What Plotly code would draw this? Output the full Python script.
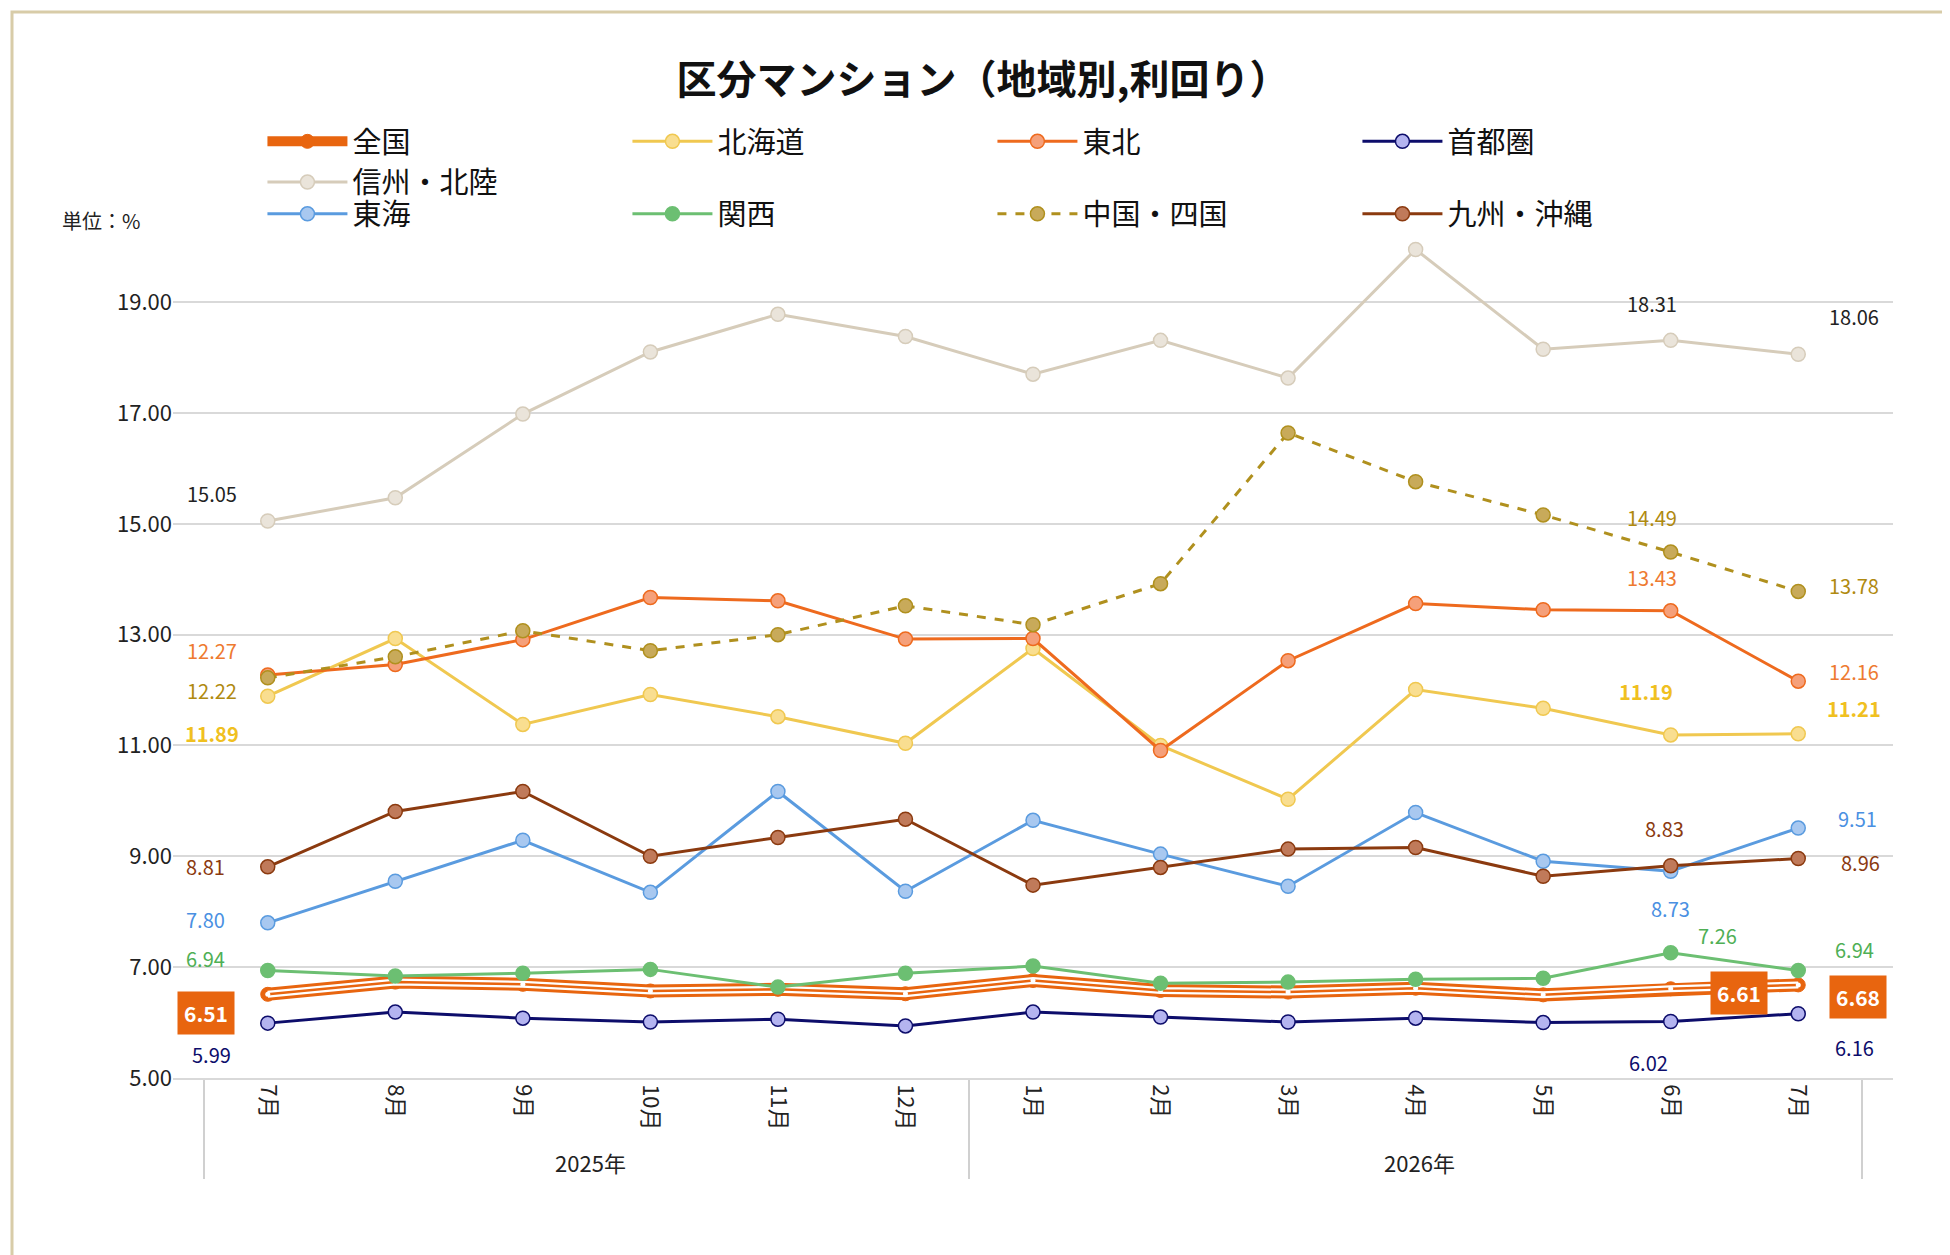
import plotly.graph_objects as go

years = ["2025年"]*6 + ["2026年"]*7
months = ["7月","8月","9月","10月","11月","12月","1月","2月","3月","4月","5月","6月","7月\u200b"]

zenkoku   = [6.51,6.73,6.69,6.57,6.60,6.52,6.76,6.58,6.55,6.62,6.50,6.61,6.68]
hokkaido  = [11.89,12.93,11.38,11.92,11.52,11.04,12.75,11.00,10.03,12.01,11.67,11.19,11.21]
tohoku    = [12.27,12.46,12.91,13.67,13.61,12.92,12.93,10.91,12.53,13.56,13.45,13.43,12.16]
shutoken  = [5.99,6.19,6.08,6.01,6.06,5.94,6.19,6.10,6.01,6.08,6.00,6.02,6.16]
shinshu   = [15.05,15.47,16.98,18.10,18.78,18.38,17.70,18.31,17.63,19.95,18.15,18.31,18.06]
tokai     = [7.80,8.55,9.29,8.35,10.17,8.37,9.65,9.04,8.46,9.79,8.91,8.73,9.51]
kansai    = [6.94,6.84,6.89,6.96,6.64,6.89,7.02,6.71,6.73,6.78,6.80,7.26,6.94]
chugoku   = [12.22,12.60,13.07,12.71,13.00,13.52,13.18,13.92,16.64,15.76,15.16,14.49,13.78]
kyushu    = [8.81,9.81,10.17,9.00,9.34,9.67,8.48,8.80,9.13,9.16,8.64,8.83,8.96]

x = [years, months]
fig = go.Figure()

F = "Noto Sans CJK JP"
S = 1.244

def add(name, y, color, mfill, dash="solid", width=3, legend="legend"):
    fig.add_trace(go.Scatter(x=x, y=y, name=name, mode="lines+markers", legend=legend,
        line=dict(color=color, width=width, dash=dash),
        marker=dict(size=14, color=mfill, line=dict(color=color, width=1.5))))

fig.add_trace(go.Scatter(x=x, y=zenkoku, name="全国", mode="lines+markers", legend="legend",
    line=dict(color="#E8650F", width=13),
    marker=dict(size=14, color="#E8650F", line=dict(color="#E8650F", width=1))))
fig.add_trace(go.Scatter(x=x, y=zenkoku, showlegend=False, mode="lines", hoverinfo="skip",
    line=dict(color="white", width=7)))
fig.add_trace(go.Scatter(x=x, y=zenkoku, showlegend=False, mode="lines+markers", hoverinfo="skip",
    line=dict(color="#E8650F", width=2.5), marker=dict(size=5, color="white")))
add("北海道", hokkaido, "#F0C850", "#F9DE90")
add("東北", tohoku, "#EE6A1E", "#F5A07A")
add("首都圏", shutoken, "#0D0D6B", "#B4B4F0")
add("信州・北陸", shinshu, "#D6CCBA", "#EAE4DA")
add("東海", tokai, "#5A9BDF", "#A8C8F0", legend="legend2")
add("関西", kansai, "#6CBF72", "#6CBF72", legend="legend2")
add("中国・四国", chugoku, "#B0901E", "#C8AA5A", dash="dash", legend="legend2")
add("九州・沖縄", kyushu, "#8B3A0F", "#C07A5A", legend="legend2")

labels = [
    (shinshu,0,"#222222",-45,22,False),(shinshu,11,"#222222",-15,30,False),(shinshu,12,"#222222",45,30,False),
    (chugoku,0,"#B08A10",-45,-10,False),(chugoku,11,"#B08A10",-15,28,False),(chugoku,12,"#B08A10",45,5,False),
    (tohoku,0,"#EE7A30",-45,20,False),(tohoku,11,"#EE7A30",-15,27,False),(tohoku,12,"#EE7A30",45,8,False),
    (hokkaido,0,"#F0C020",-45,-30,False),(hokkaido,11,"#F0C020",-20,35,False),(hokkaido,12,"#F0C020",45,20,False),
    (kyushu,0,"#8B3A0F",-50,0,False),(kyushu,11,"#8B3A0F",-5,30,False),(kyushu,12,"#8B3A0F",50,-3,False),
    (tokai,0,"#4A90E2",-50,3,False),(tokai,11,"#4A90E2",0,-30,False),(tokai,12,"#4A90E2",48,8,False),
    (kansai,0,"#4FAF55",-50,10,False),(kansai,11,"#4FAF55",38,14,False),(kansai,12,"#4FAF55",45,17,False),
    (shutoken,0,"#0D0D6B",-45,-25,False),(shutoken,11,"#0D0D6B",-18,-33,False),(shutoken,12,"#0D0D6B",45,-27,False),
    (zenkoku,0,"white",-50,-15,True),(zenkoku,11,"white",55,-3,True),(zenkoku,12,"white",48,-10,True),
]
for ser, i, col, xs, ys, box in labels:
    bold = ser is hokkaido or box
    txt = f"{ser[i]:.2f}"
    if bold: txt = f"<b>{txt}</b>"
    fig.add_annotation(x=i, y=ser[i], xref="x", yref="y", text=txt, showarrow=False,
        xshift=xs*S, yshift=ys*S, font=dict(family=F, size=21 if box else 20, color=col),
        bgcolor="#E8650F" if box else None, borderpad=6 if box else 0)

fig.add_annotation(x=(52-165)/1720, y=(1070-212)/859, xref="paper", yref="paper", yanchor="middle",
    xanchor="left", text="単位：%", showarrow=False, font=dict(family=F, size=20, color="#222"))

fig.update_layout(shapes=[dict(type="rect", xref="paper", yref="paper",
    x0=(4-165)/1720, x1=(1946-165)/1720, y0=-(1250-1070)/859, y1=(1070-4)/859,
    line=dict(color="#D8CCA8", width=3))])

leg = dict(orientation="h", xanchor="left", yanchor="middle", entrywidth=270,
           entrywidthmode="pixels", font=dict(family=F, size=29, color="#111"),
           itemwidth=80, traceorder="normal", bgcolor="rgba(0,0,0,0)")
fig.update_layout(
    width=1950, height=1255, paper_bgcolor="white", plot_bgcolor="white",
    margin=dict(l=165, r=65, t=211, b=185),
    title=dict(text="<b>区分マンション（地域別,利回り）</b>", x=0.5, xanchor="center",
               y=1-72/1255, yanchor="middle", font=dict(family=F, size=40, color="#111")),
    font=dict(family=F, size=22, color="#222"),
    legend=dict(leg, x=0.052, y=(1070-154)/859),
    legend2=dict(leg, x=0.052, y=(1070-206)/859),
    yaxis=dict(range=[5, 20.5], tickvals=[5,7,9,11,13,15,17,19], tickformat=".2f",
               gridcolor="#D9D9D9", gridwidth=1.5, zeroline=False, showline=False,
               tickfont=dict(size=22, color="#222"), ticklen=0, ticksuffix="  "),
    xaxis=dict(type="multicategory", tickangle=90, showgrid=False, showline=True,
               linecolor="#D9D9D9", linewidth=1.5, dividercolor="#D0D0D0", dividerwidth=1.5,
               tickfont=dict(size=22, color="#222"), showdividers=True),
)
fig.write_html("out.html")
